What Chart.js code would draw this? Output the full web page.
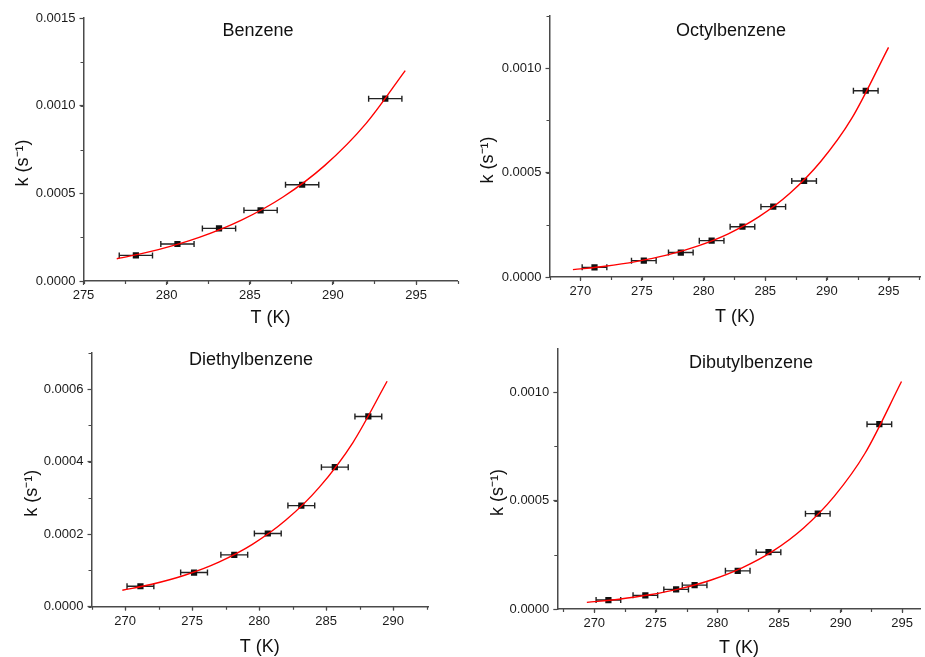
<!DOCTYPE html>
<html>
<head>
<meta charset="utf-8">
<title>Rate constants vs temperature</title>
<script src="https://cdn.jsdelivr.net/npm/chart.js@4/dist/chart.umd.min.js"></script>
<style>
  html, body { margin: 0; padding: 0; background: #fff; width: 925px; height: 657px; overflow: hidden; }
  canvas { position: absolute; }
</style>
</head>
<body>
<canvas id="benzene"></canvas>
<canvas id="octyl"></canvas>
<canvas id="diethyl"></canvas>
<canvas id="dibutyl"></canvas>
<script>
'use strict';

//===== data =====//
var tErr = 1; // +/- K on every point

var benzT = [278.15, 280.65, 283.15, 285.65, 288.15, 293.15];
var benzK = [0.000146, 0.000211, 0.000300, 0.000403, 0.000549, 0.00104];
var benzFitT = [277, 279.5, 282, 284.5, 287, 289.5, 292, 294.35];
var benzFitK = [0.000127, 0.000179, 0.000250, 0.000347, 0.000479, 0.000658, 0.000899, 0.00120];

var octT = [271.15, 275.15, 278.15, 280.65, 283.15, 285.65, 288.15, 293.15];
var octK = [0.0000463, 0.0000783, 0.000117, 0.000174, 0.000241, 0.000337, 0.000460, 0.000892];
var octFitT = [269.4, 272, 274.5, 277, 279.5, 282, 284.5, 287, 289.5, 292, 295];
var octFitK = [0.0000352, 0.0000514, 0.0000735, 0.0001045, 0.000148, 0.000207, 0.000289, 0.000401, 0.000553, 0.000758, 0.00110];

var dietT = [271.15, 275.15, 278.15, 280.65, 283.15, 285.65, 288.15];
var dietK = [0.0000564, 0.0000943, 0.000143, 0.000202, 0.000279, 0.000385, 0.000525];
var dietFitT = [269.8, 272, 274.5, 277, 279.5, 282, 284.5, 287, 289.55];
var dietFitK = [0.0000453, 0.0000618, 0.0000874, 0.000123, 0.000172, 0.000239, 0.000330, 0.000453, 0.000622];

var dibuT = [271.15, 274.15, 276.65, 278.15, 281.65, 284.15, 288.15, 293.15];
var dibuK = [0.0000414, 0.0000629, 0.0000905, 0.000110, 0.000176, 0.000262, 0.000440, 0.000853];
var dibuFitT = [269.4, 272, 274.5, 277, 279.5, 282, 284.5, 287, 289.5, 292, 294.95];
var dibuFitK = [0.0000307, 0.0000453, 0.0000655, 0.000094, 0.000134, 0.000190, 0.000267, 0.000374, 0.000521, 0.000720, 0.00105];

var titles = ['Benzene', 'Octylbenzene', 'Diethylbenzene', 'Dibutylbenzene'];
var xTitle = 'T (K)';
// trailing em spaces nudge the rotated label down like in the original
var yTitle = 'k (s\u207B\u00B9)\u2003\u2002';

//===== look =====//
var AXIS = '#4a4a4a';
Chart.defaults.font.family = '"Liberation Sans", Arial, sans-serif';
Chart.defaults.color = '#1a1a1a';

function pairs(xs, ys) {
  return xs.map(function (x, i) { return { x: x, y: ys[i] }; });
}

// horizontal error bars under the points
var errorBars = {
  id: 'errorBars',
  beforeDatasetsDraw: function (chart) {
    var ctx = chart.ctx, xs = chart.scales.x;
    chart.data.datasets.forEach(function (ds, di) {
      if (!ds.xErr) return;
      var meta = chart.getDatasetMeta(di);
      ctx.save();
      ctx.strokeStyle = '#222';
      ctx.lineWidth = 1.4;
      meta.data.forEach(function (pt, i) {
        var v = ds.data[i].x;
        var x1 = xs.getPixelForValue(v - ds.xErr), x2 = xs.getPixelForValue(v + ds.xErr);
        var y = pt.y;
        ctx.beginPath();
        ctx.moveTo(x1, y); ctx.lineTo(x2, y);
        ctx.moveTo(x1, y - 3); ctx.lineTo(x1, y + 3);
        ctx.moveTo(x2, y - 3); ctx.lineTo(x2, y + 3);
        ctx.stroke();
      });
      ctx.restore();
    });
  }
};

// short minor ticks between the labelled ones
var minorTicks = {
  id: 'minorTicks',
  afterDraw: function (chart, args, opts) {
    var ctx = chart.ctx, xs = chart.scales.x, ys = chart.scales.y;
    ctx.save();
    ctx.strokeStyle = AXIS;
    ctx.lineWidth = 1.2;
    ctx.beginPath();
    var v;
    for (v = Math.ceil(xs.min / opts.x) * opts.x; v <= xs.max + 1e-9; v += opts.x) {
      var px = Math.round(xs.getPixelForValue(v)) + 0.5;
      ctx.moveTo(px, ys.bottom); ctx.lineTo(px, ys.bottom + 3);
    }
    for (v = Math.ceil(ys.min / opts.y) * opts.y; v <= ys.max * 1.0001; v += opts.y) {
      var py = Math.round(ys.getPixelForValue(v)) + 0.5;
      ctx.moveTo(xs.left, py); ctx.lineTo(xs.left - 3, py);
    }
    ctx.stroke();
    ctx.restore();
  }
};

// compound name written inside the plot
var panelTitle = {
  id: 'panelTitle',
  afterDraw: function (chart, args, opts) {
    var ctx = chart.ctx;
    ctx.save();
    ctx.font = '18px "Liberation Sans", Arial, sans-serif';
    ctx.fillStyle = '#111';
    ctx.textAlign = 'center';
    ctx.textBaseline = 'middle';
    ctx.fillText(opts.text, opts.x, opts.y);
    ctx.restore();
  }
};

function makePanel(p) {
  var cv = document.getElementById(p.id);
  var bl = p.box[0], bt = p.box[1], bw = p.box[2], bh = p.box[3];
  cv.style.left = bl + 'px';
  cv.style.top = bt + 'px';
  cv.width = bw;
  cv.height = bh;

  return new Chart(cv, {
    type: 'scatter',
    data: {
      datasets: [
        {
          data: pairs(p.fitT, p.fitK),
          showLine: true,
          borderColor: '#ff0000',
          borderWidth: 1.4,
          pointRadius: 0,
          cubicInterpolationMode: 'monotone'
        },
        {
          data: pairs(p.T, p.K),
          xErr: tErr,
          pointStyle: 'rect',
          pointRadius: 4.4,
          backgroundColor: '#111',
          borderColor: '#111',
          borderWidth: 0
        }
      ]
    },
    options: {
      responsive: false,
      animation: false,
      events: [],
      layout: { padding: { top: p.plot.top - bt, right: bl + bw - p.plot.right, left: 0, bottom: 0 } },
      plugins: {
        legend: { display: false },
        tooltip: { enabled: false },
        minorTicks: { x: 2.5, y: p.yMinor },
        panelTitle: { text: p.title, x: p.titlePos[0] - bl, y: p.titlePos[1] - bt }
      },
      scales: {
        x: {
          type: 'linear',
          min: p.xMin,
          max: p.xMax,
          afterFit: function (s) { s.height = bt + bh - p.plot.bottom; },
          border: { color: AXIS, width: 1.5 },
          grid: { drawOnChartArea: false, tickLength: 4, tickColor: AXIS, tickWidth: 1.2 },
          ticks: { stepSize: 5, includeBounds: false, padding: 3, font: { size: 13 } },
          title: { display: true, text: xTitle, font: { size: 18 }, color: '#111', padding: { top: 0, bottom: p.xTitlePad } }
        },
        y: {
          min: 0,
          max: p.yMax,
          afterFit: function (s) { s.width = p.plot.left - bl; },
          border: { color: AXIS, width: 1.5 },
          grid: { drawOnChartArea: false, tickLength: 4, tickColor: AXIS, tickWidth: 1.2 },
          ticks: {
            stepSize: p.yStep,
            includeBounds: false,
            padding: 4,
            font: { size: 13 },
            callback: function (v) { return v.toFixed(4); }
          },
          title: { display: true, text: yTitle, font: { size: 18 }, color: '#111', padding: { top: p.yTitlePad, bottom: 0 } }
        }
      }
    },
    plugins: [errorBars, minorTicks, panelTitle]
  });
}

makePanel({
  id: 'benzene', title: titles[0], T: benzT, K: benzK, fitT: benzFitT, fitK: benzFitK,
  box: [0, 0, 462, 330], plot: { left: 83.5, right: 458, top: 18, bottom: 281 },
  xMin: 275, xMax: 297.5, yMax: 0.0015, yStep: 0.0005, yMinor: 0.00025,
  titlePos: [258, 31], xTitlePad: 1, yTitlePad: 12
});

makePanel({
  id: 'octyl', title: titles[1], T: octT, K: octK, fitT: octFitT, fitK: octFitK,
  box: [462, 0, 463, 330], plot: { left: 549.5, right: 924, top: 16, bottom: 277 },
  xMin: 267.5, xMax: 297.6, yMax: 0.00125, yStep: 0.0005, yMinor: 0.00025,
  titlePos: [731, 31], xTitlePad: 2.5, yTitlePad: 15
});

makePanel({
  id: 'diethyl', title: titles[2], T: dietT, K: dietK, fitT: dietFitT, fitK: dietFitK,
  box: [0, 330, 462, 330], plot: { left: 91.5, right: 428, top: 353, bottom: 606.7 },
  xMin: 267.5, xMax: 292.6, yMax: 0.0007, yStep: 0.0002, yMinor: 0.0001,
  titlePos: [251, 360], xTitlePad: 2.5, yTitlePad: 21
});

makePanel({
  id: 'dibutyl', title: titles[3], T: dibuT, K: dibuK, fitT: dibuFitT, fitK: dibuFitK,
  box: [462, 330, 463, 330], plot: { left: 557.3, right: 924.6, top: 349, bottom: 609 },
  xMin: 267, xMax: 296.5, yMax: 0.0012, yStep: 0.0005, yMinor: 0.00025,
  titlePos: [751, 363], xTitlePad: 1, yTitlePad: 25
});
</script>
</body>
</html>
